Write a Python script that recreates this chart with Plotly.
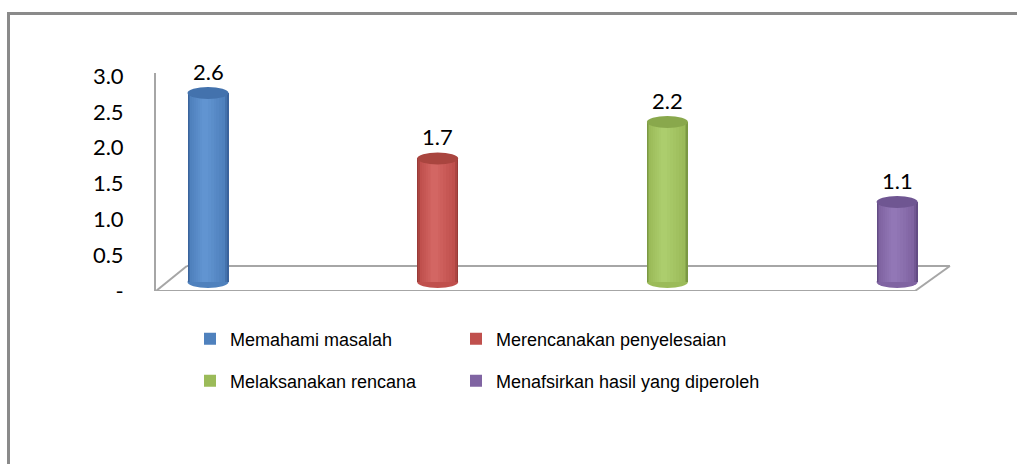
import plotly.graph_objects as go

# ---------------- data ----------------
categories = ["Memahami masalah", "Merencanakan penyelesaian",
              "Melaksanakan rencana", "Menafsirkan hasil yang diperoleh"]
values = [2.6, 1.7, 2.2, 1.1]
value_labels = ["2.6", "1.7", "2.2", "1.1"]
tick_vals = [0, 0.5, 1.0, 1.5, 2.0, 2.5, 3.0]
tick_text = ["-", "0.5", "1.0", "1.5", "2.0", "2.5", "3.0"]

# ---------------- styles ----------------
positions = list(range(len(categories)))
body_col = ["#4F81BD", "#C0504D", "#9BBB59", "#8064A2"]
edge_col = ["#3A639C", "#983B38", "#7B9943", "#634C84"]
hi_col = ["#6194D1", "#D36663", "#ACCD6D", "#9277B6"]
top_col = ["#4372AD", "#A9453F", "#89A84C", "#6F5692"]

W = 0.1785          # cylinder width (x units)
EH = 0.082          # half height of the ellipse caps (y2 units)
LABEL_FONT = "Lato, Open Sans, sans-serif"
LEGEND_FONT = "Liberation Sans Narrow, Arial Narrow, Liberation Sans, Arial, sans-serif"


def hex2rgb(h):
    h = h.lstrip("#")
    return [int(h[i:i + 2], 16) for i in (0, 2, 4)]


def mix(a, b, t):
    ra, rb = hex2rgb(a), hex2rgb(b)
    return "rgb(%d,%d,%d)" % tuple(round(x + (y - x) * t) for x, y in zip(ra, rb))


# shading stripes (width fraction of cylinder)
stripe_fracs = [1.0, 0.93, 0.86, 0.74, 0.62, 0.50, 0.38, 0.26, 0.15]
LEGEND_STRIPE = 2


def stripe_colour(i, k):
    if k <= LEGEND_STRIPE:
        return mix(edge_col[i], body_col[i], k / LEGEND_STRIPE)
    return mix(body_col[i], hi_col[i], (k - LEGEND_STRIPE) / (len(stripe_fracs) - 1 - LEGEND_STRIPE))


legend_names = ["legend", "legend2", "legend3", "legend4"]

fig = go.Figure()
for k, frac in enumerate(stripe_fracs):
    shift = -0.09 * (1 - frac)
    for i, (cat, p, v) in enumerate(zip(categories, positions, values)):
        fig.add_trace(go.Bar(
            x=[p], y=[v], name=cat,
            width=frac * W, offset=shift * W - frac * W / 2,
            marker=dict(color=stripe_colour(i, k), line=dict(width=0)),
            yaxis="y2", showlegend=(k == LEGEND_STRIPE),
            legend=legend_names[i],
            hoverinfo="skip",
        ))

shapes = []
# frame
FC = "#8A8A8A"
shapes.append(dict(type="line", xref="paper", yref="paper",
                   x0=(8.5 - 156) / 861, x1=1.0, y0=1 - 13.5 / 464, y1=1 - 13.5 / 464,
                   line=dict(color=FC, width=3)))
shapes.append(dict(type="line", xref="paper", yref="paper",
                   x0=(8.5 - 156) / 861, x1=(8.5 - 156) / 861, y0=1 - 12 / 464, y1=0,
                   line=dict(color=FC, width=3)))
# floor (3D base)
GC = "#A6A6A6"
fx0, fx1 = -0.2264, 3.078
bx0, bx1 = -0.092, 3.230
fb = 0.349
for (a, b, c, d) in [(fx0, 0, fx1, 0), (bx0, fb, bx1, fb), (fx0, 0, bx0, fb), (fx1, 0, bx1, fb)]:
    shapes.append(dict(type="line", xref="x", yref="y", x0=a, y0=b, x1=c, y1=d,
                       layer="below", line=dict(color=GC, width=2)))
# cylinder caps
for i, (p, v) in enumerate(zip(positions, values)):
    shapes.append(dict(type="circle", xref="x", yref="y2",
                       x0=p - W / 2, x1=p + W / 2, y0=-EH, y1=EH,
                       fillcolor=body_col[i], line=dict(width=0), layer="below"))
    shapes.append(dict(type="circle", xref="x", yref="y2",
                       x0=p - W / 2, x1=p + W / 2, y0=v - EH, y1=v + EH,
                       fillcolor=top_col[i], line=dict(width=0), layer="above"))

annotations = []
for p, v, t in zip(positions, values, value_labels):
    annotations.append(dict(x=p, y=v, xref="x", yref="y2", text=t, showarrow=False,
                            yanchor="bottom", yshift=6,
                            font=dict(family=LABEL_FONT, size=22, color="#000000")))

legend_xy = [(190, 339), (456, 339), (190, 381), (456, 381)]
legend_layout = {}
for name, (lx, ly) in zip(legend_names, legend_xy):
    legend_layout[name] = dict(
        orientation="h", x=(lx - 156) / 861, xanchor="left",
        y=1 - ly / 464, yanchor="middle",
        font=dict(family=LEGEND_FONT, size=18, color="#000000"),
        bgcolor="rgba(0,0,0,0)", itemclick=False, itemdoubleclick=False)

fig.update_layout(
    width=1017, height=464,
    margin=dict(l=156, r=0, t=0, b=0, autoexpand=False),
    paper_bgcolor="white", plot_bgcolor="white",
    barmode="overlay", bargap=0,
    shapes=shapes, annotations=annotations,
    xaxis=dict(range=[-0.2264, 3.522], showgrid=False, zeroline=False,
               showline=False, showticklabels=False, ticks=""),
    yaxis=dict(domain=[(464 - 291) / 464, (464 - 73) / 464],
               range=[0, 3.042], tickvals=tick_vals, ticktext=tick_text,
               showgrid=False, zeroline=False, showline=True,
               linecolor=GC, linewidth=2, ticks="", ticklabelstandoff=26,
               tickfont=dict(family=LABEL_FONT, size=22, color="#000000")),
    yaxis2=dict(overlaying="y", range=[-0.1238, 2.875], showgrid=False,
                zeroline=False, showline=False, showticklabels=False, ticks=""),
    showlegend=True,
    **legend_layout,
)

fig.write_html("out.html")
